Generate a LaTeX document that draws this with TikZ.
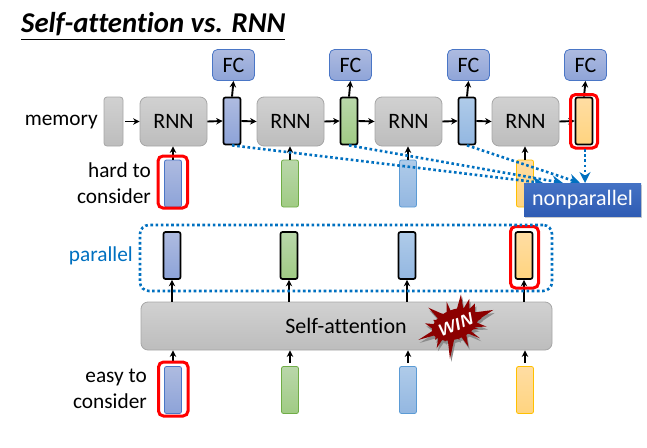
\documentclass[tikz,border=0pt]{standalone}
\usepackage{fontspec}
\setmainfont[Ligatures=NoCommon]{Carlito}
\usetikzlibrary{
  positioning,
  calc,
  arrows.meta,
  shadows
}
\definecolor{dotblue}{HTML}{0070C0}
\definecolor{fcline}{HTML}{4A76C6}
\definecolor{fctop}{HTML}{AEBBE0}
\definecolor{fcbot}{HTML}{8FA4D8}
\definecolor{bluetop}{HTML}{AEBBE0}
\definecolor{bluebot}{HTML}{8DA3D8}
\definecolor{blueline}{HTML}{4A76C6}
\definecolor{greentop}{HTML}{B9D7AA}
\definecolor{greenbot}{HTML}{A0CB84}
\definecolor{greenline}{HTML}{70AD47}
\definecolor{skytop}{HTML}{AFCBE9}
\definecolor{skybot}{HTML}{93B7E1}
\definecolor{skyline}{HTML}{5B9BD5}
\definecolor{oratop}{HTML}{FFDDA3}
\definecolor{orabot}{HTML}{FFD47F}
\definecolor{oraline}{HTML}{FFC000}
\definecolor{nontop}{HTML}{4472C4}
\definecolor{nonbot}{HTML}{2F5CB4}
\tikzstyle{bar}=[draw, rounded corners=2pt, minimum width=17pt, minimum height=47pt, inner sep=0pt, line width=0.8pt]
\tikzstyle{outbar}=[bar, draw=black, line width=1.7pt]
\tikzstyle{rnnbox}=[draw=black!35, rounded corners=7pt, top color=black!18, bottom color=black!26, inner sep=0pt, line width=0.8pt, font=\fontsize{22}{22}\selectfont]
\tikzstyle{fcbox}=[draw=fcline, rounded corners=5pt, top color=fctop, bottom color=fcbot, minimum width=42pt, minimum height=31pt, inner sep=0pt, line width=0.8pt, font=\fontsize{22}{22}\selectfont]
\tikzstyle{label}=[align=right, anchor=east, inner sep=0pt, font=\fontsize{21.3}{26.5}\selectfont]
\tikzstyle{redring}=[draw=red, rounded corners=5pt, line width=3pt]
\tikzstyle{flow}=[-{Stealth[length=6.5pt,width=6.5pt]}, line width=1.9pt]
\tikzstyle{dotflow}=[-{Stealth[length=11pt,width=11pt]}, dotblue, line width=2.6pt, dash pattern=on 2.6pt off 2.6pt]
\def\burstpath{(153,28) -- (160,72) -- (178,42) -- (178,72) -- (195,55) -- (195,82) -- (250,75) -- (212,100) -- (215,100) -- (198,112) -- (230,125) -- (192,126) -- (205,130) -- (180,136) -- (210,160) -- (168,143) -- (175,185) -- (150,150) -- (148,165) -- (135,152) -- (120,222) -- (113,160) -- (105,170) -- (100,160) -- (80,190) -- (85,157) -- (75,165) -- (78,150) -- (25,165) -- (72,135) -- (45,115) -- (78,118) -- (70,105) -- (88,105) -- (55,68) -- (100,88) -- (95,85) -- (110,92) -- (110,50) -- (125,85) -- (130,75) -- (138,82) -- cycle}

\begin{document}
\begin{tikzpicture}[x=1pt, y=-1pt]
    \useasboundingbox (0,0) rectangle (647,447);

    % タイトル
    \node[anchor=base west, inner sep=0pt, font=\fontsize{28.7}{29}\selectfont\bfseries\itshape] (title) at (21,32) {Self-attention vs. RNN};
    \draw[line width=0.9pt] (21,39.5) coordinate (ruleL) -- (285,39.5) coordinate (ruleR);

    % 左のラベル
    \node[label] (memlabel) at (98,122) {memory};
    \node[label] (hardlabel) at (151,183) {hard to\\consider};
    \node[label, text=dotblue] (parlabel) at (133,256) {parallel};
    \node[label] (easylabel) at (147,389) {easy to\\consider};

    % RNNの行
    \node[rnnbox, minimum width=19pt, minimum height=49pt, rounded corners=3pt] (mem) at (113.5,121.5) {};
    \foreach \i/\x/\c/\rx in {1/173/blue/232, 2/290/green/349, 3/408/sky/467, 4/525/ora/584} {
      \node[rnnbox, minimum width=67pt, minimum height=49pt] (rnn\i) at ({\x+0.5},121.5) {RNN};
      \node[fcbox] (fc\i) at ({\rx+1.5},65) {FC};
      \node[outbar, top color=\c top, bottom color=\c bot] (out\i) at (\rx,121) {};
      \node[bar, draw=\c line, top color=\c top, bottom color=\c bot] (in\i) at (\x,183.5) {};
      % 並列の出力と入力
      \node[outbar, top color=\c top, bottom color=\c bot] (par\i) at (\x-1,255.5) {};
      \node[bar, draw=\c line, top color=\c top, bottom color=\c bot] (low\i) at (\x,390) {};
    }

    % Self-attention
    \node[rnnbox, minimum width=411pt, minimum height=48pt] (sa) at (346.5,326) {};
    \node[inner sep=0pt, font=\fontsize{22}{22}\selectfont] (satext) at (346,326) {Self-attention};

    % 矢印
    \draw[flow] (mem.east) ++(2,0) -- (rnn1.west);
    \foreach \i/\j in {1/2, 2/3, 3/4} {
      \draw[flow] (out\i.east) -- (rnn\j.west);
    }
    \foreach \i in {1,2,3,4} {
      \draw[flow] (rnn\i.east) -- (out\i.west);
      \draw[flow] (out\i.north) -- (fc\i.south);
      \draw[flow] (in\i.north) -- (rnn\i.south -| in\i.north);
      \draw[flow] (sa.north -| par\i.south) -- (par\i.south);
      \draw[flow] ($(low\i.north)+(0,-3)$) -- (sa.south -| low\i.north);
    }

    % 赤い枠
    \draw[redring] (158,156) rectangle (187.5,208);
    \draw[redring] (570.5,94.5) rectangle (597.5,148);
    \draw[redring] (510.5,226.5) rectangle (538.5,288);
    \draw[redring] (158.5,362) rectangle (188,416);

    % parallelの点線
    \node[draw=dotblue, line width=2.6pt, dash pattern=on 2.6pt off 2.6pt, rounded corners=9pt, minimum width=412pt, minimum height=66pt, inner sep=0pt] (parbox) at (346,258) {};

    % nonparallelへの点線矢印
    \coordinate (tip1) at (543,183);
    \coordinate (tip2) at (563,183);
    \coordinate (tip3) at (580,183);
    \draw[dotflow] (out1.south) -- (tip1);
    \draw[dotflow] (out2.south) -- (tip2);
    \draw[dotflow] (out3.south) -- (tip3);
    \draw[dotflow] (585,149) coordinate (ringB) -- (585,183) coordinate (tip4);

    % nonparallel
    \node[top color=nontop, bottom color=nonbot, text=white, minimum width=117pt, minimum height=33pt, inner sep=0pt, font=\fontsize{22}{22}\selectfont, drop shadow={shadow xshift=1pt, shadow yshift=-1.5pt, opacity=0.4}] (nonpar) at (582.5,199.5) {nonparallel};

    % WIN
    \begin{scope}[shift={(410,285)}, x=0.333pt, y=-0.333pt]
      \fill[black!45, shift={(4,9)}] \burstpath;
      \fill[black!45, shift={(4,9)}] (135,118) ellipse [x radius=72, y radius=44, rotate=22];
      \fill[red!55!black] \burstpath;
      \fill[red!55!black] (135,118) ellipse [x radius=72, y radius=44, rotate=22];
      \node[rotate=22, text=white, inner sep=0pt, font=\fontsize{17}{17}\selectfont\bfseries\itshape\sffamily] (win) at (135,121) {WIN};
    \end{scope}
\end{tikzpicture}
\end{document}
